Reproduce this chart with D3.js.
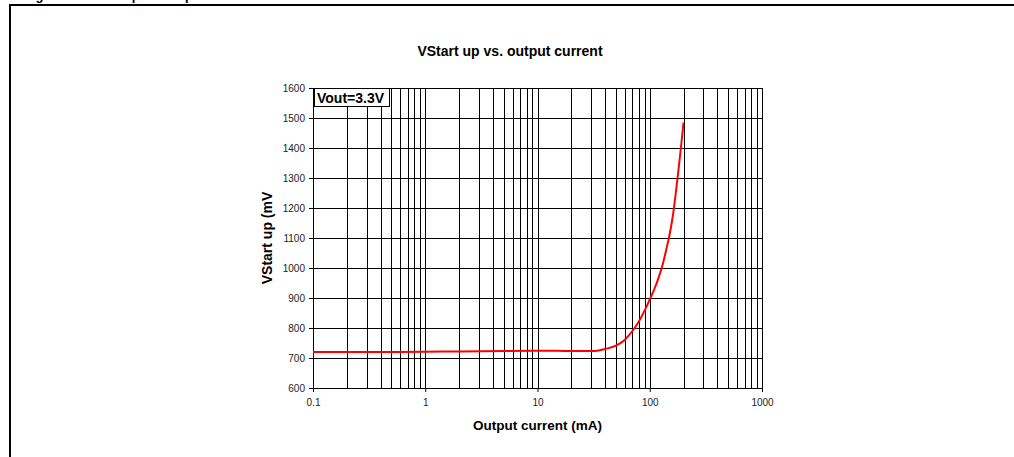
<!DOCTYPE html>
<html>
<head>
<meta charset="utf-8">
<script src="https://cdnjs.cloudflare.com/ajax/libs/d3/7.8.5/d3.min.js"></script>
<style>
  body { margin: 0; background: #fff; }
  text { font-family: Arial, "Liberation Sans", sans-serif; }
</style>
</head>
<body>
<div id="chart"></div>
<script>
// Données
var current = [0.1, 0.2, 0.5, 1, 2, 5, 10, 15, 20, 30, 35, 40, 50, 60, 70, 80, 90, 100, 110, 120, 130, 140, 150, 160, 170, 180, 190, 200]
var vstart  = [720, 720, 720, 721, 722, 723, 724, 724, 723, 723, 725, 730, 741, 761, 790, 822, 858, 895, 930, 968, 1010, 1060, 1110, 1170, 1245, 1325, 1405, 1485]
var xTicks = [0.1, 1, 10, 100, 1000]
var yTicks = [600, 700, 800, 900, 1000, 1100, 1200, 1300, 1400, 1500, 1600]

var width = 1014
var height = 457

const svg = d3.select("#chart")
  .append("svg")
    .attr("width", width)
    .attr("height", height)

// Cadre extérieur (haut et gauche)
svg.append("path")
  .attr("d", "M10,457 L10,5 L1014,5")
  .attr("fill", "none")
  .attr("stroke", "black")
  .attr("stroke-width", 2)

// Légende de la figure, coupée en haut
svg.append("text")
  .attr("x", 24)
  .attr("y", 0)
  .style("font-size", "13px")
  .style("font-weight", "bold")
  .text("Figure 9. VStart up vs. output current")

// Zone du graphique
const pLeft = 313, pRight = 762, pTop = 88, pBottom = 388
const midX = (pLeft + pRight) / 2

const x = d3.scaleLog()
  .domain([0.1, 1000])
  .range([pLeft, pRight])

const y = d3.scaleLinear()
  .domain([600, 1600])
  .range([pBottom, pTop])

// Grille verticale (toutes les sous-divisions)
var minor = []
for (var d = 0.1; d < 1000; d *= 10) {
  for (var k = 1; k <= 10; k++) minor.push(+(d * k).toPrecision(3))
}
svg.append("g")
  .selectAll("line")
  .data(minor)
  .join("line")
    .attr("x1", d => Math.round(x(d)) + 0.5)
    .attr("x2", d => Math.round(x(d)) + 0.5)
    .attr("y1", pTop)
    .attr("y2", pBottom)
    .attr("stroke", "black")
    .attr("stroke-width", 1)

// Grille horizontale
svg.append("g")
  .selectAll("line")
  .data(yTicks)
  .join("line")
    .attr("x1", pLeft)
    .attr("x2", pRight)
    .attr("y1", d => Math.round(y(d)) + 0.5)
    .attr("y2", d => Math.round(y(d)) + 0.5)
    .attr("stroke", "black")
    .attr("stroke-width", 1)

// Axes
svg.append("g")
  .attr("transform", "translate(0," + pBottom + ")")
  .call(d3.axisBottom(x).tickValues(xTicks).tickSize(4).tickFormat(d => String(d)))
  .call(g => g.select(".domain").attr("stroke", "black"))
  .call(g => g.selectAll(".tick line").attr("stroke", "black"))
  .call(g => g.selectAll("text").attr("dy", "1.1em").style("font-size", "10px").attr("fill", "#222"))

svg.append("g")
  .attr("transform", "translate(" + pLeft + ",0)")
  .call(d3.axisLeft(y).tickValues(yTicks).tickSize(4).tickFormat(d => String(d)))
  .call(g => g.select(".domain").attr("stroke", "black"))
  .call(g => g.selectAll(".tick line").attr("stroke", "black"))
  .call(g => g.selectAll("text").attr("x", -8).style("font-size", "10px").attr("fill", "#222"))

// Courbe
const line = d3.line()
  .x((d, i) => x(current[i]))
  .y(d => y(d))
  .curve(d3.curveMonotoneX)

svg.append("path")
  .datum(vstart)
  .attr("d", line)
  .attr("fill", "none")
  .attr("stroke", "#ff0000")
  .attr("stroke-width", 2)

// Boîte de légende
svg.append("rect")
  .attr("x", 314.5)
  .attr("y", 88.5)
  .attr("width", 75)
  .attr("height", 18)
  .attr("fill", "white")
  .attr("stroke", "black")
svg.append("text")
  .attr("x", 317)
  .attr("y", 103)
  .style("font-size", "14px")
  .style("font-weight", "bold")
  .text("Vout=3.3V")

// Titres
svg.append("text")
  .attr("x", 510)
  .attr("y", 56)
  .attr("text-anchor", "middle")
  .style("font-size", "14px")
  .style("font-weight", "bold")
  .text("VStart up vs. output current")

svg.append("text")
  .attr("x", midX)
  .attr("y", 430)
  .attr("text-anchor", "middle")
  .style("font-size", "13.5px")
  .style("font-weight", "bold")
  .text("Output current (mA)")

svg.append("text")
  .attr("transform", "translate(272,238) rotate(-90)")
  .attr("text-anchor", "middle")
  .style("font-size", "14px")
  .style("font-weight", "bold")
  .text("VStart up (mV")
</script>
</body>
</html>
